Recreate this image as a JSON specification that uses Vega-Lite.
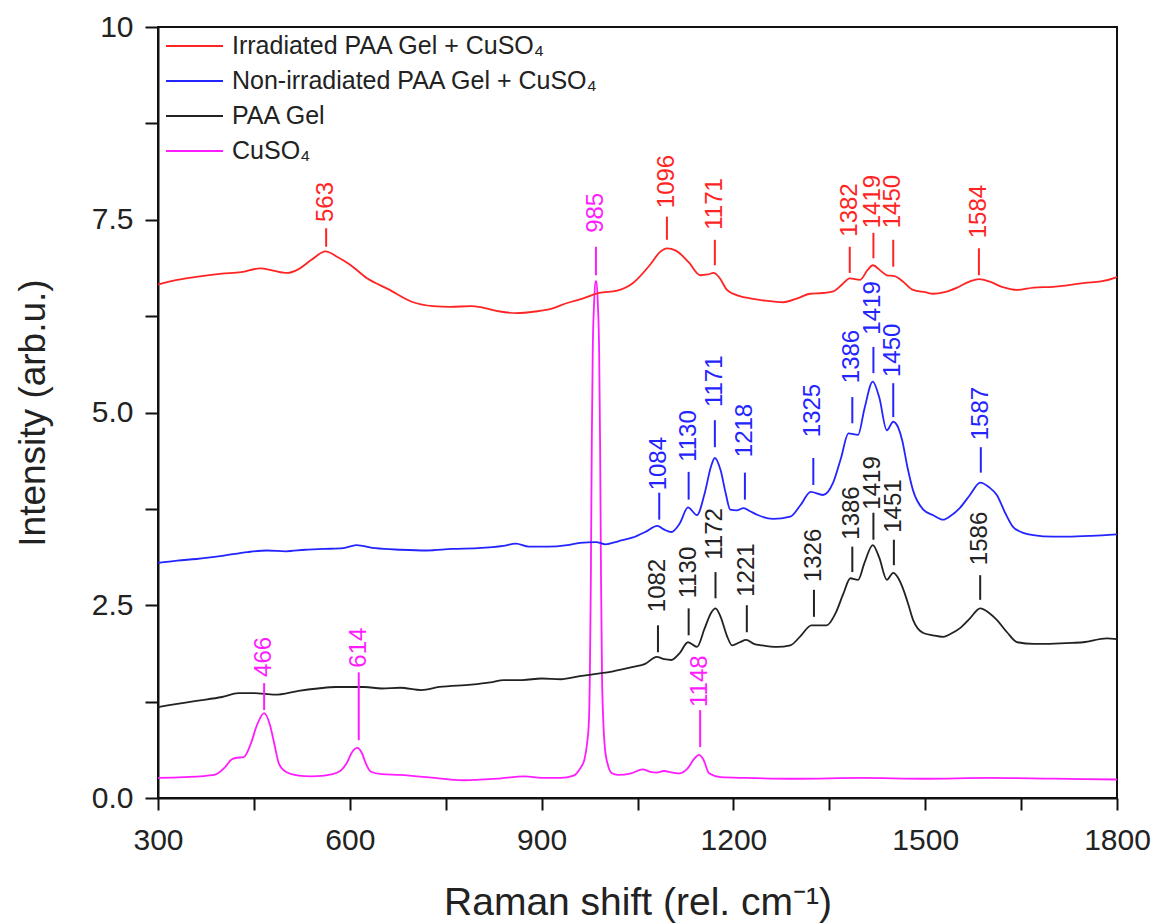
{
  "$schema": "https://vega.github.io/schema/vega-lite/v6.json",
  "width": 959,
  "height": 771,
  "autosize": {"type": "none"},
  "padding": {"left": 158, "top": 27, "right": 40, "bottom": 126},
  "background": "#ffffff",
  "config": {
    "font": "Liberation Sans",
    "view": {"stroke": "#111111", "strokeWidth": 2},
    "axis": {
      "grid": false,
      "domainColor": "#111111",
      "domainWidth": 2,
      "tickColor": "#111111",
      "tickWidth": 2,
      "labelColor": "#222222",
      "titleColor": "#222222",
      "titleFontWeight": "normal",
      "labelFont": "Liberation Sans",
      "titleFont": "Liberation Sans",
      "labelFlush": false,
      "labelOverlap": false,
      "labelBound": false
    }
  },
  "datasets": {
    "spectra": [
      {"s": "M", "x": 300, "y": 0.26}, {"s": "M", "x": 340, "y": 0.27}, {"s": "M", "x": 388, "y": 0.30}, {"s": "M", "x": 405, "y": 0.40}, {"s": "M", "x": 415, "y": 0.50}, {"s": "M", "x": 422, "y": 0.52}, {"s": "M", "x": 434, "y": 0.53}, {"s": "M", "x": 445, "y": 0.70}, {"s": "M", "x": 455, "y": 0.95}, {"s": "M", "x": 466, "y": 1.10}, {"s": "M", "x": 475, "y": 0.95}, {"s": "M", "x": 482, "y": 0.70}, {"s": "M", "x": 489, "y": 0.45}, {"s": "M", "x": 500, "y": 0.34}, {"s": "M", "x": 520, "y": 0.29}, {"s": "M", "x": 539, "y": 0.28}, {"s": "M", "x": 560, "y": 0.29}, {"s": "M", "x": 583, "y": 0.34}, {"s": "M", "x": 595, "y": 0.45}, {"s": "M", "x": 604, "y": 0.60}, {"s": "M", "x": 612, "y": 0.65}, {"s": "M", "x": 619, "y": 0.58}, {"s": "M", "x": 625, "y": 0.45}, {"s": "M", "x": 633, "y": 0.34}, {"s": "M", "x": 650, "y": 0.31}, {"s": "M", "x": 679, "y": 0.30}, {"s": "M", "x": 720, "y": 0.27}, {"s": "M", "x": 779, "y": 0.23}, {"s": "M", "x": 830, "y": 0.25}, {"s": "M", "x": 874, "y": 0.28}, {"s": "M", "x": 900, "y": 0.26}, {"s": "M", "x": 930, "y": 0.26}, {"s": "M", "x": 950, "y": 0.29}, {"s": "M", "x": 960, "y": 0.38}, {"s": "M", "x": 967, "y": 0.50}, {"s": "M", "x": 971, "y": 0.70}, {"s": "M", "x": 974, "y": 1.0}, {"s": "M", "x": 975.5, "y": 1.6}, {"s": "M", "x": 977, "y": 2.8}, {"s": "M", "x": 978.5, "y": 4.6}, {"s": "M", "x": 980, "y": 5.8}, {"s": "M", "x": 982, "y": 6.4}, {"s": "M", "x": 984, "y": 6.7}, {"s": "M", "x": 986, "y": 6.7}, {"s": "M", "x": 988, "y": 6.4}, {"s": "M", "x": 990, "y": 5.8}, {"s": "M", "x": 991.5, "y": 4.6}, {"s": "M", "x": 993, "y": 2.8}, {"s": "M", "x": 994.5, "y": 1.6}, {"s": "M", "x": 996.5, "y": 1.0}, {"s": "M", "x": 999, "y": 0.65}, {"s": "M", "x": 1004, "y": 0.42}, {"s": "M", "x": 1010, "y": 0.32}, {"s": "M", "x": 1019, "y": 0.30}, {"s": "M", "x": 1040, "y": 0.32}, {"s": "M", "x": 1058, "y": 0.37}, {"s": "M", "x": 1070, "y": 0.34}, {"s": "M", "x": 1080, "y": 0.33}, {"s": "M", "x": 1091, "y": 0.35}, {"s": "M", "x": 1105, "y": 0.33}, {"s": "M", "x": 1116, "y": 0.32}, {"s": "M", "x": 1128, "y": 0.38}, {"s": "M", "x": 1138, "y": 0.50}, {"s": "M", "x": 1146, "y": 0.56}, {"s": "M", "x": 1153, "y": 0.50}, {"s": "M", "x": 1162, "y": 0.32}, {"s": "M", "x": 1180, "y": 0.27}, {"s": "M", "x": 1220, "y": 0.26}, {"s": "M", "x": 1300, "y": 0.25}, {"s": "M", "x": 1400, "y": 0.26}, {"s": "M", "x": 1500, "y": 0.25}, {"s": "M", "x": 1600, "y": 0.26}, {"s": "M", "x": 1700, "y": 0.25}, {"s": "M", "x": 1800, "y": 0.24},

      {"s": "K", "x": 300, "y": 1.18}, {"s": "K", "x": 330, "y": 1.22}, {"s": "K", "x": 360, "y": 1.26}, {"s": "K", "x": 400, "y": 1.31}, {"s": "K", "x": 426, "y": 1.36}, {"s": "K", "x": 450, "y": 1.36}, {"s": "K", "x": 483, "y": 1.34}, {"s": "K", "x": 520, "y": 1.39}, {"s": "K", "x": 550, "y": 1.42}, {"s": "K", "x": 578, "y": 1.44}, {"s": "K", "x": 623, "y": 1.44}, {"s": "K", "x": 650, "y": 1.42}, {"s": "K", "x": 679, "y": 1.43}, {"s": "K", "x": 712, "y": 1.40}, {"s": "K", "x": 740, "y": 1.44}, {"s": "K", "x": 790, "y": 1.47}, {"s": "K", "x": 820, "y": 1.50}, {"s": "K", "x": 841, "y": 1.53}, {"s": "K", "x": 870, "y": 1.53}, {"s": "K", "x": 900, "y": 1.55}, {"s": "K", "x": 930, "y": 1.54}, {"s": "K", "x": 960, "y": 1.58}, {"s": "K", "x": 985, "y": 1.61}, {"s": "K", "x": 1010, "y": 1.64}, {"s": "K", "x": 1043, "y": 1.70}, {"s": "K", "x": 1062, "y": 1.74}, {"s": "K", "x": 1080, "y": 1.83}, {"s": "K", "x": 1092, "y": 1.80}, {"s": "K", "x": 1103, "y": 1.79}, {"s": "K", "x": 1116, "y": 1.88}, {"s": "K", "x": 1129, "y": 2.02}, {"s": "K", "x": 1143, "y": 1.96}, {"s": "K", "x": 1155, "y": 2.20}, {"s": "K", "x": 1165, "y": 2.40}, {"s": "K", "x": 1172, "y": 2.46}, {"s": "K", "x": 1180, "y": 2.35}, {"s": "K", "x": 1190, "y": 2.10}, {"s": "K", "x": 1198, "y": 1.98}, {"s": "K", "x": 1210, "y": 2.02}, {"s": "K", "x": 1220, "y": 2.05}, {"s": "K", "x": 1232, "y": 2.00}, {"s": "K", "x": 1245, "y": 1.98}, {"s": "K", "x": 1268, "y": 1.96}, {"s": "K", "x": 1289, "y": 1.98}, {"s": "K", "x": 1305, "y": 2.10}, {"s": "K", "x": 1322, "y": 2.24}, {"s": "K", "x": 1346, "y": 2.24}, {"s": "K", "x": 1360, "y": 2.40}, {"s": "K", "x": 1372, "y": 2.65}, {"s": "K", "x": 1383, "y": 2.85}, {"s": "K", "x": 1395, "y": 2.83}, {"s": "K", "x": 1405, "y": 3.05}, {"s": "K", "x": 1418, "y": 3.28}, {"s": "K", "x": 1428, "y": 3.12}, {"s": "K", "x": 1440, "y": 2.83}, {"s": "K", "x": 1450, "y": 2.92}, {"s": "K", "x": 1458, "y": 2.85}, {"s": "K", "x": 1466, "y": 2.70}, {"s": "K", "x": 1474, "y": 2.50}, {"s": "K", "x": 1481, "y": 2.31}, {"s": "K", "x": 1497, "y": 2.14}, {"s": "K", "x": 1512, "y": 2.11}, {"s": "K", "x": 1528, "y": 2.09}, {"s": "K", "x": 1540, "y": 2.13}, {"s": "K", "x": 1554, "y": 2.20}, {"s": "K", "x": 1570, "y": 2.33}, {"s": "K", "x": 1586, "y": 2.46}, {"s": "K", "x": 1600, "y": 2.40}, {"s": "K", "x": 1612, "y": 2.31}, {"s": "K", "x": 1628, "y": 2.15}, {"s": "K", "x": 1644, "y": 2.02}, {"s": "K", "x": 1670, "y": 2.00}, {"s": "K", "x": 1695, "y": 2.00}, {"s": "K", "x": 1720, "y": 2.01}, {"s": "K", "x": 1747, "y": 2.02}, {"s": "K", "x": 1784, "y": 2.07}, {"s": "K", "x": 1800, "y": 2.06},

      {"s": "B", "x": 300, "y": 3.05}, {"s": "B", "x": 330, "y": 3.08}, {"s": "B", "x": 360, "y": 3.10}, {"s": "B", "x": 400, "y": 3.14}, {"s": "B", "x": 440, "y": 3.19}, {"s": "B", "x": 470, "y": 3.21}, {"s": "B", "x": 500, "y": 3.20}, {"s": "B", "x": 530, "y": 3.22}, {"s": "B", "x": 560, "y": 3.23}, {"s": "B", "x": 590, "y": 3.24}, {"s": "B", "x": 610, "y": 3.28}, {"s": "B", "x": 640, "y": 3.24}, {"s": "B", "x": 680, "y": 3.22}, {"s": "B", "x": 720, "y": 3.21}, {"s": "B", "x": 760, "y": 3.23}, {"s": "B", "x": 800, "y": 3.24}, {"s": "B", "x": 840, "y": 3.27}, {"s": "B", "x": 860, "y": 3.30}, {"s": "B", "x": 880, "y": 3.26}, {"s": "B", "x": 910, "y": 3.26}, {"s": "B", "x": 940, "y": 3.28}, {"s": "B", "x": 960, "y": 3.31}, {"s": "B", "x": 985, "y": 3.32}, {"s": "B", "x": 1000, "y": 3.29}, {"s": "B", "x": 1020, "y": 3.33}, {"s": "B", "x": 1043, "y": 3.38}, {"s": "B", "x": 1062, "y": 3.45}, {"s": "B", "x": 1081, "y": 3.53}, {"s": "B", "x": 1092, "y": 3.48}, {"s": "B", "x": 1103, "y": 3.45}, {"s": "B", "x": 1116, "y": 3.56}, {"s": "B", "x": 1129, "y": 3.77}, {"s": "B", "x": 1143, "y": 3.67}, {"s": "B", "x": 1155, "y": 3.95}, {"s": "B", "x": 1165, "y": 4.30}, {"s": "B", "x": 1171, "y": 4.41}, {"s": "B", "x": 1180, "y": 4.25}, {"s": "B", "x": 1188, "y": 3.95}, {"s": "B", "x": 1195, "y": 3.74}, {"s": "B", "x": 1205, "y": 3.73}, {"s": "B", "x": 1216, "y": 3.76}, {"s": "B", "x": 1226, "y": 3.72}, {"s": "B", "x": 1238, "y": 3.67}, {"s": "B", "x": 1262, "y": 3.62}, {"s": "B", "x": 1289, "y": 3.65}, {"s": "B", "x": 1305, "y": 3.80}, {"s": "B", "x": 1321, "y": 3.97}, {"s": "B", "x": 1340, "y": 3.93}, {"s": "B", "x": 1356, "y": 4.09}, {"s": "B", "x": 1368, "y": 4.40}, {"s": "B", "x": 1380, "y": 4.73}, {"s": "B", "x": 1395, "y": 4.71}, {"s": "B", "x": 1405, "y": 5.05}, {"s": "B", "x": 1418, "y": 5.40}, {"s": "B", "x": 1428, "y": 5.20}, {"s": "B", "x": 1440, "y": 4.77}, {"s": "B", "x": 1450, "y": 4.88}, {"s": "B", "x": 1458, "y": 4.80}, {"s": "B", "x": 1464, "y": 4.64}, {"s": "B", "x": 1472, "y": 4.30}, {"s": "B", "x": 1481, "y": 3.99}, {"s": "B", "x": 1497, "y": 3.74}, {"s": "B", "x": 1512, "y": 3.67}, {"s": "B", "x": 1528, "y": 3.61}, {"s": "B", "x": 1540, "y": 3.66}, {"s": "B", "x": 1554, "y": 3.76}, {"s": "B", "x": 1570, "y": 3.93}, {"s": "B", "x": 1586, "y": 4.09}, {"s": "B", "x": 1600, "y": 4.03}, {"s": "B", "x": 1612, "y": 3.93}, {"s": "B", "x": 1625, "y": 3.70}, {"s": "B", "x": 1637, "y": 3.52}, {"s": "B", "x": 1650, "y": 3.45}, {"s": "B", "x": 1669, "y": 3.41}, {"s": "B", "x": 1700, "y": 3.39}, {"s": "B", "x": 1722, "y": 3.39}, {"s": "B", "x": 1760, "y": 3.40}, {"s": "B", "x": 1800, "y": 3.42},

      {"s": "R", "x": 300, "y": 6.66}, {"s": "R", "x": 330, "y": 6.72}, {"s": "R", "x": 360, "y": 6.76}, {"s": "R", "x": 400, "y": 6.80}, {"s": "R", "x": 430, "y": 6.82}, {"s": "R", "x": 460, "y": 6.87}, {"s": "R", "x": 480, "y": 6.84}, {"s": "R", "x": 502, "y": 6.81}, {"s": "R", "x": 520, "y": 6.86}, {"s": "R", "x": 540, "y": 6.98}, {"s": "R", "x": 562, "y": 7.09}, {"s": "R", "x": 580, "y": 7.02}, {"s": "R", "x": 600, "y": 6.92}, {"s": "R", "x": 627, "y": 6.74}, {"s": "R", "x": 660, "y": 6.60}, {"s": "R", "x": 699, "y": 6.43}, {"s": "R", "x": 730, "y": 6.38}, {"s": "R", "x": 757, "y": 6.37}, {"s": "R", "x": 790, "y": 6.38}, {"s": "R", "x": 808, "y": 6.36}, {"s": "R", "x": 835, "y": 6.31}, {"s": "R", "x": 861, "y": 6.29}, {"s": "R", "x": 890, "y": 6.31}, {"s": "R", "x": 913, "y": 6.34}, {"s": "R", "x": 940, "y": 6.42}, {"s": "R", "x": 965, "y": 6.48}, {"s": "R", "x": 990, "y": 6.55}, {"s": "R", "x": 1018, "y": 6.58}, {"s": "R", "x": 1043, "y": 6.68}, {"s": "R", "x": 1070, "y": 6.92}, {"s": "R", "x": 1085, "y": 7.08}, {"s": "R", "x": 1096, "y": 7.13}, {"s": "R", "x": 1110, "y": 7.10}, {"s": "R", "x": 1130, "y": 6.95}, {"s": "R", "x": 1148, "y": 6.78}, {"s": "R", "x": 1160, "y": 6.79}, {"s": "R", "x": 1169, "y": 6.81}, {"s": "R", "x": 1178, "y": 6.75}, {"s": "R", "x": 1190, "y": 6.59}, {"s": "R", "x": 1210, "y": 6.51}, {"s": "R", "x": 1226, "y": 6.48}, {"s": "R", "x": 1250, "y": 6.45}, {"s": "R", "x": 1278, "y": 6.43}, {"s": "R", "x": 1300, "y": 6.48}, {"s": "R", "x": 1320, "y": 6.54}, {"s": "R", "x": 1340, "y": 6.55}, {"s": "R", "x": 1356, "y": 6.57}, {"s": "R", "x": 1370, "y": 6.66}, {"s": "R", "x": 1382, "y": 6.74}, {"s": "R", "x": 1398, "y": 6.72}, {"s": "R", "x": 1410, "y": 6.85}, {"s": "R", "x": 1418, "y": 6.91}, {"s": "R", "x": 1430, "y": 6.84}, {"s": "R", "x": 1440, "y": 6.78}, {"s": "R", "x": 1452, "y": 6.77}, {"s": "R", "x": 1465, "y": 6.70}, {"s": "R", "x": 1481, "y": 6.59}, {"s": "R", "x": 1500, "y": 6.56}, {"s": "R", "x": 1512, "y": 6.54}, {"s": "R", "x": 1530, "y": 6.56}, {"s": "R", "x": 1550, "y": 6.62}, {"s": "R", "x": 1570, "y": 6.70}, {"s": "R", "x": 1584, "y": 6.73}, {"s": "R", "x": 1600, "y": 6.70}, {"s": "R", "x": 1620, "y": 6.63}, {"s": "R", "x": 1644, "y": 6.59}, {"s": "R", "x": 1670, "y": 6.62}, {"s": "R", "x": 1700, "y": 6.63}, {"s": "R", "x": 1722, "y": 6.65}, {"s": "R", "x": 1750, "y": 6.68}, {"s": "R", "x": 1775, "y": 6.70}, {"s": "R", "x": 1794, "y": 6.74}, {"s": "R", "x": 1800, "y": 6.76}
    ],
    "peaks": [
      {"s": "R", "x": 563, "y1": 7.15, "y2": 7.39, "ty": 7.47},
      {"s": "R", "x": 1096, "y1": 7.24, "y2": 7.54, "ty": 7.65},
      {"s": "R", "x": 1171, "y1": 6.91, "y2": 7.24, "ty": 7.37},
      {"s": "R", "x": 1382, "y1": 6.81, "y2": 7.15, "ty": 7.28},
      {"s": "R", "x": 1419, "y1": 7.00, "y2": 7.33, "ty": 7.39},
      {"s": "R", "x": 1450, "y1": 6.89, "y2": 7.24, "ty": 7.39},
      {"s": "R", "x": 1584, "y1": 6.78, "y2": 7.13, "ty": 7.26},
      {"s": "B", "x": 1084, "y1": 3.61, "y2": 3.96, "ty": 3.99},
      {"s": "B", "x": 1130, "y1": 3.87, "y2": 4.23, "ty": 4.36},
      {"s": "B", "x": 1171, "y1": 4.55, "y2": 4.90, "ty": 5.07},
      {"s": "B", "x": 1218, "y1": 3.87, "y2": 4.22, "ty": 4.42},
      {"s": "B", "x": 1325, "y1": 4.06, "y2": 4.41, "ty": 4.68},
      {"s": "B", "x": 1386, "y1": 4.86, "y2": 5.20, "ty": 5.38},
      {"s": "B", "x": 1419, "y1": 5.51, "y2": 5.85, "ty": 6.01},
      {"s": "B", "x": 1450, "y1": 4.94, "y2": 5.38, "ty": 5.46},
      {"s": "B", "x": 1587, "y1": 4.22, "y2": 4.55, "ty": 4.64},
      {"s": "K", "x": 1082, "y1": 1.89, "y2": 2.24, "ty": 2.41},
      {"s": "K", "x": 1130, "y1": 2.11, "y2": 2.46, "ty": 2.59},
      {"s": "K", "x": 1172, "y1": 2.59, "y2": 2.93, "ty": 3.09},
      {"s": "K", "x": 1221, "y1": 2.15, "y2": 2.50, "ty": 2.61},
      {"s": "K", "x": 1326, "y1": 2.35, "y2": 2.70, "ty": 2.80},
      {"s": "K", "x": 1386, "y1": 2.93, "y2": 3.26, "ty": 3.35},
      {"s": "K", "x": 1419, "y1": 3.35, "y2": 3.70, "ty": 3.74},
      {"s": "K", "x": 1451, "y1": 3.02, "y2": 3.35, "ty": 3.44},
      {"s": "K", "x": 1586, "y1": 2.57, "y2": 2.89, "ty": 3.02},
      {"s": "M", "x": 466, "y1": 1.14, "y2": 1.49, "ty": 1.57},
      {"s": "M", "x": 614, "y1": 0.75, "y2": 1.63, "ty": 1.69},
      {"s": "M", "x": 985, "y1": 6.78, "y2": 7.15, "ty": 7.33},
      {"s": "M", "x": 1148, "y1": 0.66, "y2": 1.14, "ty": 1.18}
    ]
  },
  "layer": [
    {
      "data": {"name": "spectra"},
      "mark": {"type": "line", "strokeWidth": 1.8, "interpolate": "monotone"},
      "encoding": {
        "x": {
          "field": "x", "type": "quantitative",
          "scale": {"domain": [300, 1800], "nice": false, "zero": false},
          "axis": {
            "title": "Raman shift (rel. cm⁻¹)",
            "values": [300, 450, 600, 750, 900, 1050, 1200, 1350, 1500, 1650, 1800],
            "labelExpr": "datum.value % 300 === 0 ? format(datum.value, 'd') : ''",
            "tickSize": 12,
            "labelPadding": 15,
            "labelFontSize": 30,
            "titleFontSize": 39,
            "titleY": 116,
            "titleBaseline": "alphabetic",
            "encode": {"ticks": {"update": {"y2": {"signal": "datum.value % 300 === 0 ? 12 : 6"}}}}
          }
        },
        "y": {
          "field": "y", "type": "quantitative",
          "scale": {"domain": [0, 10], "nice": false},
          "axis": {
            "title": "Intensity (arb.u.)",
            "values": [0, 1.25, 2.5, 3.75, 5, 6.25, 7.5, 8.75, 10],
            "labelExpr": "datum.value % 2.5 === 0 ? (datum.value === 10 ? '10' : format(datum.value, '.1f')) : ''",
            "tickSize": 13,
            "labelPadding": 12,
            "labelFontSize": 30,
            "titleFontSize": 37,
            "titleX": -106,
            "titleBaseline": "bottom",
            "encode": {"ticks": {"update": {"x2": {"signal": "datum.value % 2.5 === 0 ? -13 : -6"}}}}
          }
        },
        "color": {
          "field": "s", "type": "nominal",
          "scale": {"domain": ["R", "B", "K", "M"], "range": ["#ff2424", "#2424ff", "#222222", "#ff1cff"]},
          "legend": {
            "title": null,
            "orient": "none",
            "legendX": 7,
            "legendY": 4,
            "padding": 0,
            "symbolType": "stroke",
            "symbolSize": 3249,
            "symbolStrokeWidth": 2,
            "symbolOffset": 0,
            "clipHeight": 30,
            "rowPadding": 5,
            "labelFontSize": 25,
            "labelFont": "Liberation Sans",
            "labelColor": "#222222",
            "labelOffset": 8,
            "labelLimit": 600,
            "labelExpr": "datum.label == 'R' ? 'Irradiated PAA Gel + CuSO₄' : datum.label == 'B' ? 'Non-irradiated PAA Gel + CuSO₄' : datum.label == 'K' ? 'PAA Gel' : 'CuSO₄'"
          }
        }
      }
    },
    {
      "data": {"name": "peaks"},
      "mark": {"type": "rule", "strokeWidth": 2},
      "encoding": {
        "x": {"field": "x", "type": "quantitative"},
        "y": {"field": "y1", "type": "quantitative"},
        "y2": {"field": "y2"},
        "color": {"field": "s", "type": "nominal", "legend": null}
      }
    },
    {
      "data": {"name": "peaks"},
      "mark": {"type": "text", "angle": 270, "align": "left", "baseline": "middle", "fontSize": 24, "font": "Liberation Sans"},
      "encoding": {
        "x": {"field": "x", "type": "quantitative"},
        "y": {"field": "ty", "type": "quantitative"},
        "text": {"field": "x", "type": "quantitative", "format": "d"},
        "color": {"field": "s", "type": "nominal", "legend": null}
      }
    }
  ]
}
